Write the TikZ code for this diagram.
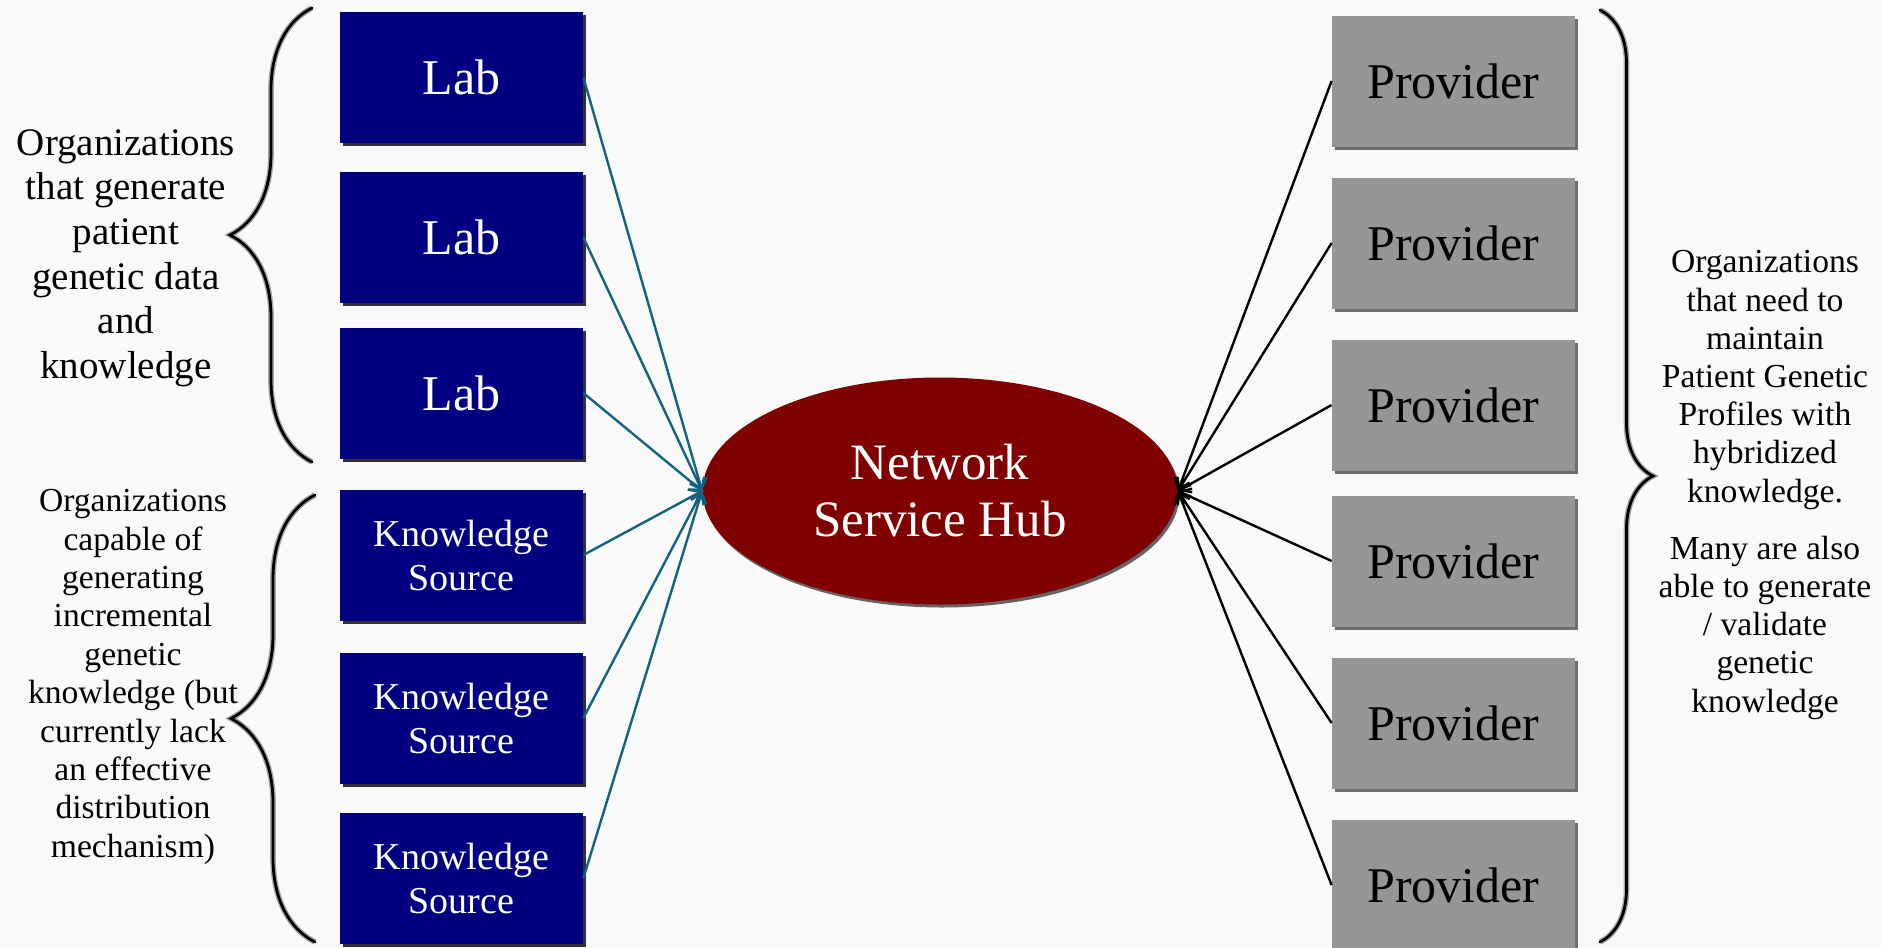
\documentclass[tikz,border=0pt]{standalone}
\usepackage{fontspec}
\setmainfont{Liberation Serif}
\usetikzlibrary{arrows.meta,shapes.geometric,shadows,decorations.pathreplacing}

\definecolor{labblue}{RGB}{0,0,128}
\definecolor{hubred}{RGB}{128,0,0}
\definecolor{provgray}{RGB}{150,150,150}
\definecolor{linkteal}{RGB}{18,98,128}
\definecolor{paper}{RGB}{249,249,249}

\tikzset{
  labbox/.style={rectangle, fill=labblue, text=white, minimum width=121.5pt, minimum height=65.5pt,
    inner sep=0pt, align=center, drop shadow={shadow xshift=1.5pt, shadow yshift=-1.5pt, opacity=0.8, fill=black}},
  provbox/.style={rectangle, fill=provgray, text=black, minimum width=121.5pt, minimum height=65.5pt,
    inner sep=0pt, font=\fontsize{25}{28}\selectfont, drop shadow={shadow xshift=1.5pt, shadow yshift=-1.5pt, opacity=0.7, fill=black!80}},
  sidetext/.style={align=center, text=black, inner sep=0pt},
  orgbrace/.style={decorate, decoration={brace, amplitude=#1}, line width=1.4pt, line cap=round},
  bracegray/.style={decorate, decoration={brace, amplitude=#1}, line width=2.8pt, draw=gray!70},
  tealarrow/.style={draw=linkteal, line width=1.2pt, -{Straight Barb[length=5pt,width=8pt]}},
  provarrow/.style={draw=black, line width=1.2pt, -{Straight Barb[length=5pt,width=8pt]}},
}

\begin{document}
\begin{tikzpicture}[x=0.5pt,y=-0.5pt]
  % Page and background
  \fill[paper] (0,0) rectangle (1881,948);
  \useasboundingbox (0,0) rectangle (1881,948);

  % Hub in the middle
  \node[ellipse, fill=hubred, text=white, minimum width=237.5pt, minimum height=113.5pt, inner sep=0pt,
    align=center, font=\fontsize{25.5}{28.5}\selectfont,
    drop shadow={shadow xshift=1pt, shadow yshift=-1.5pt, opacity=0.6, fill=black}]
    (hub) at (940,491) {Network\\Service Hub};

  % Labs and knowledge sources on the left
  \node[labbox, font=\fontsize{25}{27}\selectfont] (lab1) at (461.5,77.5) {Lab};
  \node[labbox, font=\fontsize{25}{27}\selectfont] (lab2) at (461.5,237.5) {Lab};
  \node[labbox, font=\fontsize{25}{27}\selectfont] (lab3) at (461.5,393) {Lab};
  \node[labbox, font=\fontsize{19}{22}\selectfont] (ks1) at (461.5,555) {Knowledge\\Source};
  \node[labbox, font=\fontsize{19}{22}\selectfont] (ks2) at (461.5,718) {Knowledge\\Source};
  \node[labbox, font=\fontsize{19}{22}\selectfont] (ks3) at (461.5,878) {Knowledge\\Source};

  % Providers on the right
  \node[provbox] (prov1) at (1453.5,81) {Provider};
  \node[provbox] (prov2) at (1453.5,243) {Provider};
  \node[provbox] (prov3) at (1453.5,405) {Provider};
  \node[provbox] (prov4) at (1453.5,561) {Provider};
  \node[provbox] (prov5) at (1453.5,723) {Provider};
  \node[provbox] (prov6) at (1453.5,885) {Provider};

  % Links into the hub
  \draw[tealarrow] (lab1.east) -- (hub.west);
  \draw[tealarrow] (lab2.east) -- (hub.west);
  \draw[tealarrow] (lab3.east) -- (hub.west);
  \draw[tealarrow] (ks1.east) -- (hub.west);
  \draw[tealarrow] (ks2.east) -- (hub.west);
  \draw[tealarrow] (ks3.east) -- (hub.west);
  \draw[provarrow] (prov1.west) -- (hub.east);
  \draw[provarrow] (prov2.west) -- (hub.east);
  \draw[provarrow] (prov3.west) -- (hub.east);
  \draw[provarrow] (prov4.west) -- (hub.east);
  \draw[provarrow] (prov5.west) -- (hub.east);
  \draw[provarrow] (prov6.west) -- (hub.east);

  % Braces round the groups
  \coordinate (labBot) at (312,462);
  \coordinate (labTop) at (312,8);
  \coordinate (ksBot) at (315,942);
  \coordinate (ksTop) at (315,495);
  \coordinate (provTop) at (1600,10);
  \coordinate (provBot) at (1600,942);
  \draw[bracegray=41pt, xshift=1pt, yshift=-1pt] (labBot) -- (labTop);
  \draw[orgbrace=41pt] (labBot) -- (labTop);
  \draw[bracegray=42pt, xshift=1pt, yshift=-1pt] (ksBot) -- (ksTop);
  \draw[orgbrace=42pt] (ksBot) -- (ksTop);
  \draw[bracegray=26.5pt, xshift=1pt, yshift=-1pt] (provTop) -- (provBot);
  \draw[orgbrace=26.5pt] (provTop) -- (provBot);

  % Texts beside the braces
  \node[sidetext, font=\fontsize{19.5}{22.3}\selectfont] (labText) at (126,258)
    {Organizations\\that generate\\patient\\genetic data\\and\\knowledge};
  \node[sidetext, font=\fontsize{16.8}{19.2}\selectfont] (ksText) at (133,677)
    {Organizations\\capable of\\generating\\incremental\\genetic\\knowledge (but\\currently lack\\an effective\\distribution\\mechanism)};
  \node[sidetext, font=\fontsize{16.8}{19.1}\selectfont] (provText) at (1765,485)
    {Organizations\\that need to\\maintain\\Patient Genetic\\Profiles with\\hybridized\\knowledge.\\[9.5pt]
     Many are also\\able to generate\\/ validate\\genetic\\knowledge};
\end{tikzpicture}
\end{document}
